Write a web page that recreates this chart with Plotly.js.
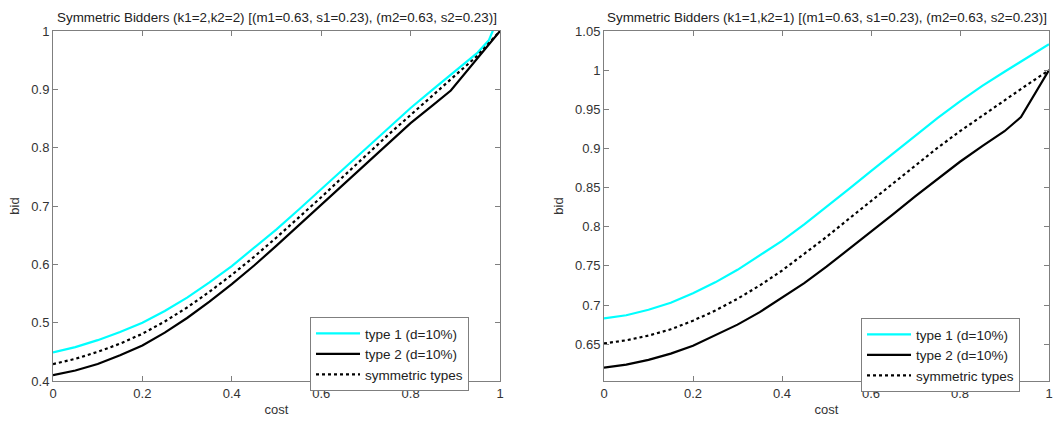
<!DOCTYPE html>
<html>
<head>
<meta charset="utf-8">
<script src="https://cdn.plot.ly/plotly-3.0.1.min.js"></script>
<style>html,body{margin:0;padding:0;background:#fff;}#chart{width:1053px;height:422px;}</style>
</head>
<body>
<div id="chart"></div>
<script>
// ---- Data ----
const titleLeft = "Symmetric Bidders (k1=2,k2=2) [(m1=0.63, s1=0.23), (m2=0.63, s2=0.23)]";
const titleRight = "Symmetric Bidders (k1=1,k2=1) [(m1=0.63, s1=0.23), (m2=0.63, s2=0.23)]";
const seriesNames = ["type 1 (d=10%)", "type 2 (d=10%)", "symmetric types"];

// Left panel (k1=2,k2=2)
const costL1 = [0,0.05,0.1,0.15,0.2,0.25,0.3,0.35,0.4,0.45,0.5,0.55,0.6,0.65,0.7,0.75,0.8,0.85,0.9,0.95,0.975,1.0];
const bidL1  = [0.449,0.458,0.470,0.484,0.500,0.520,0.543,0.569,0.597,0.628,0.660,0.694,0.729,0.764,0.799,0.834,0.868,0.900,0.931,0.963,0.984,1.03];
const costL2 = [0,0.05,0.1,0.15,0.2,0.25,0.3,0.35,0.4,0.45,0.5,0.55,0.6,0.65,0.7,0.75,0.8,0.85,0.89,1.0];
const bidL2  = [0.410,0.418,0.429,0.444,0.461,0.483,0.508,0.536,0.566,0.598,0.632,0.667,0.702,0.738,0.773,0.808,0.842,0.873,0.898,1.0];
const costLS = [0,0.05,0.1,0.15,0.2,0.25,0.3,0.35,0.4,0.45,0.5,0.55,0.6,0.65,0.7,0.75,0.8,0.85,0.9,0.95,1.0];
const bidLS  = [0.429,0.438,0.450,0.464,0.481,0.502,0.526,0.553,0.582,0.613,0.646,0.680,0.715,0.751,0.787,0.822,0.856,0.890,0.923,0.958,1.0];

// Right panel (k1=1,k2=1)
const costR1 = [0,0.05,0.1,0.15,0.2,0.25,0.3,0.35,0.4,0.45,0.5,0.55,0.6,0.65,0.7,0.75,0.8,0.85,0.9,0.95,1.0];
const bidR1  = [0.683,0.687,0.694,0.703,0.715,0.729,0.745,0.763,0.782,0.803,0.825,0.848,0.871,0.894,0.917,0.939,0.960,0.980,0.998,1.016,1.033];
const costR2 = [0,0.05,0.1,0.15,0.2,0.25,0.3,0.35,0.4,0.45,0.5,0.55,0.6,0.65,0.7,0.75,0.8,0.85,0.9,0.937,1.0];
const bidR2  = [0.620,0.624,0.630,0.638,0.648,0.661,0.675,0.691,0.709,0.728,0.749,0.771,0.793,0.816,0.839,0.861,0.883,0.903,0.922,0.940,1.0];
const costRS = [0,0.05,0.1,0.15,0.2,0.25,0.3,0.35,0.4,0.45,0.5,0.55,0.6,0.65,0.7,0.75,0.8,0.85,0.9,0.95,1.0];
const bidRS  = [0.651,0.655,0.661,0.669,0.680,0.693,0.708,0.725,0.744,0.765,0.787,0.810,0.833,0.856,0.879,0.901,0.922,0.942,0.962,0.981,1.0];

const xTicks = [0,0.2,0.4,0.6,0.8,1];
const yTicksL = [0.4,0.5,0.6,0.7,0.8,0.9,1];
const yTicksR = [0.65,0.7,0.75,0.8,0.85,0.9,0.95,1,1.05];

// ---- Traces ----
const cyan = {color:'#00ffff', width:2.2};
const blk = {color:'#000000', width:2.2};
const dot = {color:'#000000', width:2.2, dash:'dot'};

const traces = [
  {x:costL1, y:bidL1, name:seriesNames[0], mode:'lines', line:cyan, xaxis:'x', yaxis:'y', legend:'legend'},
  {x:costL2, y:bidL2, name:seriesNames[1], mode:'lines', line:blk, xaxis:'x', yaxis:'y', legend:'legend'},
  {x:costLS, y:bidLS, name:seriesNames[2], mode:'lines', line:dot, xaxis:'x', yaxis:'y', legend:'legend'},
  {x:costR1, y:bidR1, name:seriesNames[0], mode:'lines', line:cyan, xaxis:'x2', yaxis:'y2', legend:'legend2'},
  {x:costR2, y:bidR2, name:seriesNames[1], mode:'lines', line:blk, xaxis:'x2', yaxis:'y2', legend:'legend2'},
  {x:costRS, y:bidRS, name:seriesNames[2], mode:'lines', line:dot, xaxis:'x2', yaxis:'y2', legend:'legend2'}
];

const fontFam = 'Liberation Sans, Arial, sans-serif';
const axBase = {
  showline:true, linecolor:'#7f7f7f', linewidth:1, mirror:'ticks',
  ticks:'inside', ticklen:5, tickcolor:'#7f7f7f', tickwidth:1,
  showgrid:false, zeroline:false, tickfont:{family:fontFam, size:13, color:'#333'},
  fixedrange:true
};
const W = 1053, H = 422;
const yDom = [1-381/H, 1-31/H];

const legBase = {xanchor:'left', yanchor:'top', bgcolor:'#fff',
          bordercolor:'#7f7f7f', borderwidth:1, font:{family:fontFam, size:13.5, color:'#222'},
          tracegroupgap:0, itemwidth:44};

const layout = {
  width:W, height:H, margin:{l:0,r:0,t:0,b:0},
  paper_bgcolor:'#fff', plot_bgcolor:'#fff',
  font:{family:fontFam, size:13, color:'#333'},
  xaxis: Object.assign({}, axBase, {domain:[53/W, 500/W], range:[0,1], tickvals:xTicks,
          title:{text:'cost', font:{size:13, color:'#333'}, standoff:5}, anchor:'y'}),
  yaxis: Object.assign({}, axBase, {domain:yDom, range:[0.4,1], tickvals:yTicksL,
          title:{text:'bid', font:{size:13, color:'#333'}, standoff:8}, anchor:'x'}),
  xaxis2: Object.assign({}, axBase, {domain:[604/W, 1049/W], range:[0,1], tickvals:xTicks,
          title:{text:'cost', font:{size:13, color:'#333'}, standoff:5}, anchor:'y2'}),
  yaxis2: Object.assign({}, axBase, {domain:yDom, range:[0.603,1.05], tickvals:yTicksR,
          title:{text:'bid', font:{size:13, color:'#333'}, standoff:8}, anchor:'x2'}),
  showlegend:true,
  legend: Object.assign({}, legBase, {x:310/W, y:1-317/H}),
  legend2: Object.assign({}, legBase, {x:861/W, y:1-318/H}),
  annotations:[
    {text:titleLeft, xref:'paper', yref:'paper', x:(53+500)/2/W, y:1-17/H, xanchor:'center', yanchor:'middle',
     showarrow:false, font:{family:fontFam, size:13.4, color:'#222'}},
    {text:titleRight, xref:'paper', yref:'paper', x:(604+1050)/2/W, y:1-17/H, xanchor:'center', yanchor:'middle',
     showarrow:false, font:{family:fontFam, size:13.4, color:'#222'}}
  ]
};

Plotly.newPlot('chart', traces, layout, {staticPlot:true, displayModeBar:false});
</script>
</body>
</html>
